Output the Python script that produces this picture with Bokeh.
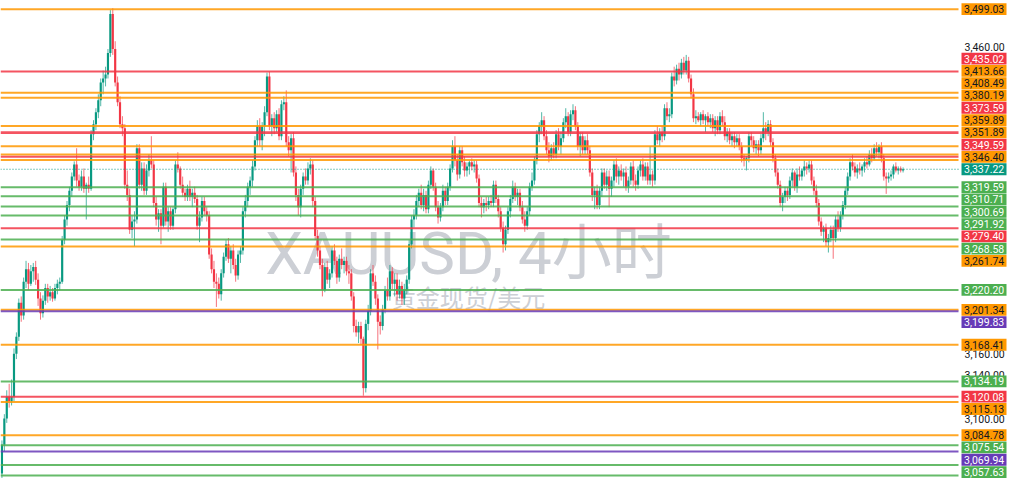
import math
from bokeh.plotting import figure
from bokeh.models import ColumnDataSource, Range1d, Label
from bokeh.core.properties import value
from bokeh.embed import file_html
from bokeh.resources import INLINE

# ---------------- data ----------------
opens = [
    3050,3076,3100,3120,3116,3120,3160,3176,3208,3196,
    3228,3240,3226,3238,3242,3230,3212,3198,3210,3222,
    3214,3218,3212,3222,3226,3228,3268,3288,3302,3316,
    3330,3342,3326,3320,3330,3318,3322,3318,3372,3382,
    3394,3406,3424,3428,3432,3454,3494,3458,3424,3404,
    3382,3378,3322,3312,3278,3286,3288,3358,3322,3338,
    3316,3336,3346,3342,3304,3288,3294,3282,3320,3286,
    3296,3282,3298,3342,3338,3322,3314,3310,3318,3310,
    3314,3308,3282,3290,3306,3296,3292,3254,3240,3228,
    3226,3216,3236,3252,3264,3250,3258,3244,3234,3254,
    3258,3296,3306,3320,3326,3340,3366,3380,3366,3380,
    3394,3430,3380,3388,3378,3392,3370,3402,3404,3364,
    3356,3368,3334,3312,3300,3318,3330,3326,3338,3342,
    3306,3272,3258,3244,3220,3242,3230,3236,3258,3248,
    3232,3250,3244,3248,3238,3236,3214,3186,3180,3186,
    3174,3128,3188,3200,3236,3228,3212,3190,3186,3202,
    3220,3214,3238,3226,3230,3216,3224,3212,3220,3230,
    3264,3288,3292,3306,3314,3302,3312,3298,3322,3336,
    3320,3300,3290,3300,3316,3306,3320,3338,3360,3346,
    3332,3356,3344,3336,3340,3344,3340,3342,3328,3304,
    3300,3304,3302,3306,3304,3322,3308,3296,3280,3264,
    3278,3296,3308,3320,3310,3314,3300,3288,3282,3296,
    3320,3326,3346,3372,3380,3386,3370,3356,3350,3358,
    3352,3372,3360,3368,3384,3390,3374,3392,3396,3380,
    3360,3370,3356,3366,3356,3334,3312,3316,3302,3316,
    3334,3322,3330,3318,3326,3342,3330,3336,3330,3334,
    3320,3326,3340,3326,3322,3336,3342,3330,3340,3326,
    3332,3326,3372,3366,3374,3370,3398,3390,3392,3430,
    3426,3438,3432,3444,3436,3446,3428,3412,3388,3390,
    3386,3392,3386,3390,3384,3388,3378,3386,3376,3390,
    3384,3370,3374,3366,3370,3364,3368,3360,3348,3346,
    3348,3370,3366,3358,3362,3356,3368,3378,3374,3382,
    3364,3348,3334,3322,3304,3310,3316,3312,3326,3334,
    3320,3332,3330,3336,3340,3338,3342,3326,3316,3304,
    3286,3276,3280,3266,3270,3278,3270,3288,3280,3292,
    3302,3316,3330,3344,3340,3334,3338,3336,3340,3344,
    3342,3352,3348,3358,3354,3360,3348,3330,3328,3330,
    3332,3340,3336,3338,3336,
]
highs = [
    3080,3104,3126,3132,3136,3165,3180,3212,3214,3232,
    3248,3246,3244,3246,3248,3236,3218,3215,3226,3226,
    3224,3222,3226,3230,3232,3272,3292,3306,3320,3334,
    3345,3358,3332,3336,3338,3324,3330,3376,3386,3398,
    3412,3428,3436,3440,3458,3498,3500,3466,3430,3410,
    3390,3382,3336,3318,3292,3296,3362,3362,3344,3344,
    3342,3352,3370,3346,3310,3298,3298,3324,3324,3300,
    3300,3300,3346,3354,3340,3330,3318,3322,3326,3318,
    3320,3312,3296,3310,3310,3300,3296,3260,3248,3236,
    3232,3240,3256,3268,3270,3262,3264,3250,3258,3262,
    3300,3312,3324,3330,3346,3370,3386,3388,3384,3400,
    3434,3435,3392,3394,3396,3398,3406,3410,3416,3370,
    3372,3374,3340,3318,3322,3334,3338,3344,3348,3346,
    3310,3278,3262,3250,3246,3248,3240,3262,3264,3252,
    3254,3260,3252,3252,3244,3240,3218,3192,3190,3190,
    3176,3192,3206,3240,3244,3234,3216,3196,3206,3224,
    3232,3244,3242,3236,3236,3230,3228,3226,3234,3268,
    3292,3298,3312,3318,3322,3318,3316,3326,3340,3338,
    3324,3306,3304,3322,3320,3324,3342,3366,3370,3352,
    3360,3360,3350,3344,3346,3348,3346,3346,3332,3310,
    3308,3310,3310,3312,3326,3326,3312,3300,3286,3282,
    3300,3312,3326,3324,3318,3318,3306,3296,3300,3324,
    3334,3350,3376,3384,3394,3390,3376,3364,3362,3364,
    3376,3378,3374,3388,3398,3394,3396,3402,3400,3384,
    3374,3374,3370,3372,3360,3338,3320,3322,3320,3338,
    3338,3336,3336,3330,3346,3348,3340,3342,3338,3340,
    3330,3344,3346,3332,3340,3346,3348,3344,3344,3360,
    3336,3376,3380,3378,3380,3402,3404,3398,3434,3440,
    3442,3444,3448,3450,3452,3450,3432,3418,3396,3394,
    3394,3396,3392,3394,3392,3392,3390,3390,3394,3396,
    3390,3378,3378,3374,3374,3372,3372,3364,3352,3350,
    3374,3374,3370,3366,3366,3372,3394,3384,3386,3386,
    3368,3352,3338,3326,3314,3320,3320,3330,3338,3336,
    3338,3340,3338,3346,3344,3346,3346,3330,3322,3308,
    3290,3282,3284,3274,3282,3282,3292,3296,3296,3306,
    3320,3334,3348,3352,3344,3342,3344,3342,3348,3350,
    3356,3358,3362,3364,3362,3364,3352,3334,3334,3336,
    3342,3344,3340,3340,3339,
]
lows = [
    3046,3070,3096,3110,3112,3116,3155,3172,3190,3192,
    3222,3220,3224,3228,3225,3205,3192,3194,3206,3208,
    3210,3209,3210,3216,3220,3226,3264,3282,3296,3310,
    3326,3320,3316,3316,3314,3288,3314,3316,3366,3376,
    3388,3400,3412,3420,3428,3450,3452,3420,3400,3378,
    3370,3318,3306,3274,3270,3262,3284,3318,3316,3312,
    3312,3330,3338,3300,3282,3276,3264,3280,3282,3276,
    3278,3278,3294,3334,3318,3310,3306,3306,3306,3300,
    3304,3278,3266,3286,3292,3286,3250,3236,3222,3204,
    3212,3210,3232,3248,3246,3236,3240,3228,3230,3246,
    3254,3290,3300,3312,3320,3336,3360,3360,3356,3370,
    3390,3376,3370,3372,3374,3366,3366,3396,3360,3350,
    3334,3330,3306,3292,3290,3312,3322,3322,3332,3300,
    3268,3252,3240,3214,3218,3226,3222,3232,3244,3226,
    3228,3240,3236,3234,3226,3210,3180,3176,3170,3168,
    3121,3124,3182,3196,3224,3206,3164,3178,3182,3198,
    3210,3210,3220,3214,3210,3212,3206,3206,3216,3226,
    3260,3280,3288,3300,3298,3296,3294,3294,3318,3316,
    3296,3284,3286,3296,3302,3302,3316,3334,3340,3326,
    3328,3340,3330,3330,3332,3336,3334,3324,3300,3290,
    3294,3296,3298,3300,3300,3304,3290,3276,3256,3258,
    3274,3290,3304,3306,3302,3296,3284,3276,3278,3292,
    3316,3322,3342,3364,3372,3366,3352,3344,3346,3348,
    3348,3356,3352,3364,3378,3370,3370,3386,3376,3356,
    3350,3352,3352,3352,3330,3306,3298,3298,3298,3310,
    3318,3316,3300,3310,3320,3324,3322,3326,3320,3316,
    3314,3322,3320,3316,3318,3330,3326,3326,3322,3322,
    3320,3322,3362,3360,3364,3366,3386,3384,3388,3420,
    3422,3426,3428,3432,3432,3424,3408,3384,3382,3384,
    3380,3382,3374,3380,3378,3374,3370,3372,3372,3380,
    3366,3364,3362,3360,3358,3360,3356,3344,3340,3336,
    3344,3360,3354,3352,3350,3352,3364,3366,3370,3360,
    3344,3330,3318,3300,3296,3304,3306,3308,3320,3316,
    3314,3326,3326,3330,3332,3334,3322,3312,3300,3282,
    3272,3266,3262,3256,3266,3250,3266,3276,3276,3288,
    3298,3312,3326,3336,3330,3328,3332,3330,3334,3338,
    3340,3344,3346,3350,3348,3344,3326,3313,3324,3326,
    3328,3334,3332,3334,3334,
]
closes = [
    3076,3100,3120,3116,3120,3160,3176,3208,3196,3228,
    3240,3226,3238,3242,3230,3212,3198,3210,3222,3214,
    3218,3212,3222,3226,3228,3268,3288,3302,3316,3330,
    3342,3326,3320,3330,3318,3322,3318,3372,3382,3394,
    3406,3424,3428,3432,3454,3494,3458,3424,3404,3382,
    3378,3322,3312,3278,3286,3288,3358,3322,3338,3316,
    3336,3346,3342,3304,3288,3294,3282,3320,3286,3296,
    3282,3298,3342,3338,3322,3314,3310,3318,3310,3314,
    3308,3282,3290,3306,3296,3292,3254,3240,3228,3226,
    3216,3236,3252,3264,3250,3258,3244,3234,3254,3258,
    3296,3306,3320,3326,3340,3366,3380,3366,3380,3394,
    3430,3380,3388,3378,3392,3370,3402,3404,3364,3356,
    3368,3334,3312,3300,3318,3330,3326,3338,3342,3306,
    3272,3258,3244,3220,3242,3230,3236,3258,3248,3232,
    3250,3244,3248,3238,3236,3214,3186,3180,3186,3174,
    3128,3188,3200,3236,3228,3212,3190,3186,3202,3220,
    3214,3238,3226,3230,3216,3224,3212,3220,3230,3264,
    3288,3292,3306,3314,3302,3312,3298,3322,3336,3320,
    3300,3290,3300,3316,3306,3320,3338,3360,3346,3332,
    3356,3344,3336,3340,3344,3340,3342,3328,3304,3300,
    3304,3302,3306,3304,3322,3308,3296,3280,3264,3278,
    3296,3308,3320,3310,3314,3300,3288,3282,3296,3320,
    3326,3346,3372,3380,3386,3370,3356,3350,3358,3352,
    3372,3360,3368,3384,3390,3374,3392,3396,3380,3360,
    3370,3356,3366,3356,3334,3312,3316,3302,3316,3334,
    3322,3330,3318,3326,3342,3330,3336,3330,3334,3320,
    3326,3340,3326,3322,3336,3342,3330,3340,3326,3332,
    3326,3372,3366,3374,3370,3398,3390,3392,3430,3426,
    3438,3432,3444,3436,3446,3428,3412,3388,3390,3386,
    3392,3386,3390,3384,3388,3378,3386,3376,3390,3384,
    3370,3374,3366,3370,3364,3368,3360,3348,3346,3348,
    3370,3366,3358,3362,3356,3368,3378,3374,3382,3364,
    3348,3334,3322,3304,3310,3316,3312,3326,3334,3320,
    3332,3330,3336,3340,3338,3342,3326,3316,3304,3286,
    3276,3280,3266,3270,3278,3270,3288,3280,3292,3302,
    3316,3330,3344,3340,3334,3338,3336,3340,3344,3342,
    3352,3348,3358,3354,3360,3348,3330,3328,3330,3332,
    3340,3336,3338,3336,3337.22,
]

level_prices = [3499.03, 3435.02, 3413.66, 3408.49, 3380.19, 3373.59, 3359.89, 3351.89, 3349.59, 3346.40,
                3319.59, 3310.71, 3300.69, 3291.92, 3279.40, 3268.58, 3261.74, 3220.20, 3201.34, 3199.83,
                3168.41, 3134.19, 3120.08, 3115.13, 3084.78, 3075.54, 3069.94, 3057.63, 3048.20]
level_kinds = ["orange", "red", "orange", "orange", "orange", "red", "orange", "orange", "red", "orange",
               "green", "green", "green", "green", "red", "green", "orange", "green", "orange", "purple",
               "orange", "green", "red", "orange", "orange", "green", "purple", "green", "green"]
level_labelled = [True] * 28 + [False]
axis_ticks = [3100, 3140, 3160, 3460]
watermark_title = "XAUUSD, 4小时"
watermark_subtitle = "黄金现货/美元"

# ---------------- style / layout ----------------
UP, DOWN = "#089981", "#F23645"
LINE = {"orange": "#FF9800", "red": "#F23645", "green": "#4CAF50", "purple": "#673AB7", "teal": "#089981"}
LABEL_TEXT = {"orange": "#131722", "red": "#FFFFFF", "green": "#FFFFFF", "purple": "#FFFFFF", "teal": "#FFFFFF"}
FONT = "Roboto"
CHART_W, SCALE_W, FRAME_H = 958, 50, 478
X0, X1 = -0.6, 397.0
PX_PER_X = CHART_W / (X1 - X0)
X2 = X1 + SCALE_W / PX_PER_X
Y_LO, Y_HI = 3045.5, 3508.0
LN = math.log(Y_HI) - math.log(Y_LO)


def to_px(price):
    return FRAME_H * (math.log(Y_HI) - math.log(price)) / LN


def to_price(px):
    return math.exp(math.log(Y_HI) - px * LN / FRAME_H)


p = figure(frame_width=CHART_W + SCALE_W, frame_height=FRAME_H,
           x_range=Range1d(X0, X2), y_range=Range1d(Y_LO, Y_HI),
           y_axis_type="log", x_axis_location=None, y_axis_location=None,
           output_backend="svg", toolbar_location=None,
           min_border_left=0, min_border_right=0, min_border_top=0, min_border_bottom=0,
           background_fill_color="white", border_fill_color="white", outline_line_color=None)
p.grid.visible = False

# watermark (under the candles)
wx = X0 + 468.0 / PX_PER_X
p.add_layout(Label(x=wx, y=to_price(253), text=watermark_title, text_align="center",
                   text_baseline="middle", text_font=FONT + ", 'Noto Sans CJK SC', sans-serif",
                   text_font_size="60px", text_color="#cccfd5", level="underlay"))
p.add_layout(Label(x=wx, y=to_price(296), text=watermark_subtitle, text_align="center",
                   text_baseline="middle", text_font="'Noto Sans CJK SC', sans-serif",
                   text_font_size="24px", text_color="#cccfd5", level="underlay"))

# candles
idx = list(range(len(closes)))
src = ColumnDataSource(dict(
    x=idx, high=highs, low=lows,
    top=[max(o, c) for o, c in zip(opens, closes)],
    bottom=[min(o, c) for o, c in zip(opens, closes)],
    color=[UP if c >= o else DOWN for o, c in zip(opens, closes)],
))
p.segment(x0="x", y0="high", x1="x", y1="low", line_color="color", line_width=1, line_alpha=0.7, source=src)
p.vbar(x="x", width=0.9, top="top", bottom="bottom", fill_color="color", line_color=None, source=src)

# level lines (end at the price-scale edge)
lsrc = ColumnDataSource(dict(
    x0=[X0] * len(level_prices), x1=[X1] * len(level_prices), y=level_prices,
    color=[LINE[k] for k in level_kinds],
    width=[2.6 if (k == "red" and pr == 3373.59) else 2.0 for pr, k in zip(level_prices, level_kinds)],
))
p.segment(x0="x0", y0="y", x1="x1", y1="y", line_color="color", line_width="width", line_alpha=0.85, source=lsrc)
current_price = closes[-1]
p.segment(x0=[X0], y0=[current_price], x1=[X1], y1=[current_price],
          line_color=LINE["teal"], line_width=1, line_dash="1 2")

# price-scale tick labels
tick_x = X1 + 6.0 / PX_PER_X
p.text(x=[tick_x] * len(axis_ticks), y=axis_ticks, text=[f"{t:,.2f}" for t in axis_ticks],
       text_font=value(FONT), text_font_size="10.5px", text_color="#131722",
       text_align="left", text_baseline="middle")

# price labels on the scale, stacked so that they don't overlap
GAP = 12.3
cur_px = to_px(current_price)
placed = [(current_price, "teal", cur_px)]
above = sorted([(pr, k) for pr, k, lab in zip(level_prices, level_kinds, level_labelled) if lab and pr > current_price])
below = sorted([(pr, k) for pr, k, lab in zip(level_prices, level_kinds, level_labelled) if lab and pr < current_price], reverse=True)
prev = cur_px
for pr, k in above:
    y = min(to_px(pr), prev - GAP)
    placed.append((pr, k, y))
    prev = y
prev = cur_px
for pr, k in below:
    y = max(to_px(pr), prev + GAP)
    placed.append((pr, k, y))
    prev = y

box_x = X1 + (3 + 22.5) / PX_PER_X
text_x = X1 + 5.5 / PX_PER_X
bsrc = ColumnDataSource(dict(
    xb=[box_x] * len(placed), xt=[text_x] * len(placed),
    y=[to_price(ypx) for _, _, ypx in placed],
    fill=[LINE[k] for _, k, _ in placed],
    tcolor=[LABEL_TEXT[k] for _, k, _ in placed],
    text=[f"{pr:,.2f}" for pr, _, _ in placed],
))
p.rect(x="xb", y="y", width=45, height=11.8, width_units="screen", height_units="screen",
       fill_color="fill", line_color=None, source=bsrc)
p.text(x="xt", y="y", text="text", text_color="tcolor", text_font=value(FONT), text_font_size="10.5px",
       text_align="left", text_baseline="middle", source=bsrc)

open("out.html", "w").write(file_html(p, INLINE))
